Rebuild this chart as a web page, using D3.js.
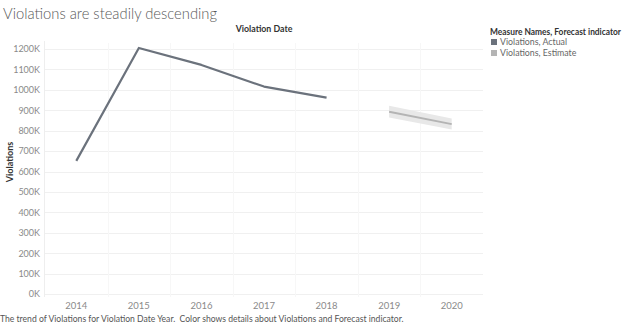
<!DOCTYPE html>
<html>
<head>
<meta charset="utf-8">
<script src="https://cdn.jsdelivr.net/npm/d3@7"></script>
<style>
  html, body { margin: 0; padding: 0; background: #fff; }
  svg { display: block; font-family: Lato, "Open Sans", sans-serif; }
</style>
</head>
<body>
<svg id="chart" width="624" height="326"></svg>
<script>
// Yearly violation totals
const years = ["2014", "2015", "2016", "2017", "2018", "2019", "2020"];
const actualYears = ["2014", "2015", "2016", "2017", "2018"];
const actualValues = [652000, 1205000, 1122000, 1016000, 962000];
const estimateYears = ["2019", "2020"];
const estimateValues = [893000, 832000];
const estimateUpper = [922000, 860000];
const estimateLower = [864000, 806000];
const yTicks = [0, 100000, 200000, 300000, 400000, 500000, 600000, 700000, 800000, 900000, 1000000, 1100000, 1200000];
const legendLabels = ["Violations, Actual", "Violations, Estimate"];
const legendColors = ["#6b727c", "#b4b4b4"];

const svg = d3.select("#chart");
const plotLeft = 45, plotRight = 483, plotTop = 49, plotBottom = 294;

const x = d3.scaleBand().domain(years).range([plotLeft, plotRight]);
const xc = d => x(d) + x.bandwidth() / 2;
const y = d3.scaleLinear().domain([0, 1200000]).range([plotBottom, plotTop]);

// Title
svg.append("text").attr("x", 3).attr("y", 19)
  .attr("font-size", 15).attr("fill", "#5a5a5a").attr("font-weight", 300)
  .attr("textLength", 214).attr("lengthAdjust", "spacingAndGlyphs")
  .text("Violations are steadily descending");

// Column header
svg.append("text").attr("x", (plotLeft + plotRight) / 2).attr("y", 32)
  .attr("text-anchor", "middle").attr("font-size", 8.8).attr("font-weight", 700)
  .attr("fill", "#333").text("Violation Date");

// Horizontal gridlines
svg.append("g").selectAll("line").data(yTicks).join("line")
  .attr("x1", plotLeft).attr("x2", plotRight)
  .attr("y1", d => Math.round(y(d)) + 0.5).attr("y2", d => Math.round(y(d)) + 0.5)
  .attr("stroke", "#f0f0f0").attr("stroke-width", 1);

// Faint column dividers
svg.append("g").selectAll("line").data(years.slice(1)).join("line")
  .attr("x1", d => Math.round(x(d)) + 0.5).attr("x2", d => Math.round(x(d)) + 0.5)
  .attr("y1", plotTop - 6).attr("y2", plotBottom + 3)
  .attr("stroke", "#f7f7f7");

// Left axis line
svg.append("line").attr("x1", plotLeft - 0.5).attr("x2", plotLeft - 0.5)
  .attr("y1", plotTop - 8).attr("y2", plotBottom + 3).attr("stroke", "#eeeeee");

// Y axis
const yAxis = d3.axisLeft(y).tickValues(yTicks)
  .tickFormat(d => (d / 1000) + "K").tickSize(0).tickPadding(4);
const gy = svg.append("g").attr("transform", `translate(${plotLeft - 1},0)`).call(yAxis);
gy.select(".domain").remove();
gy.selectAll("text").attr("font-size", 9).attr("fill", "#8a8a8a")
  .attr("font-family", "Lato, 'Open Sans', sans-serif");

// X axis
const xAxis = d3.axisBottom(x).tickSize(0).tickPadding(8);
const gx = svg.append("g").attr("transform", `translate(0,${plotBottom})`).call(xAxis);
gx.select(".domain").remove();
gx.selectAll("text").attr("font-size", 9.5).attr("fill", "#8a8a8a")
  .attr("font-family", "Lato, 'Open Sans', sans-serif");

// Y axis title
svg.append("text").attr("transform", "translate(13,162) rotate(-90)")
  .attr("text-anchor", "middle").attr("font-size", 9).attr("font-weight", 700)
  .attr("fill", "#333").text("Violations");

// Estimate band
const est = estimateYears.map((yr, i) => ({ yr, v: estimateValues[i], hi: estimateUpper[i], lo: estimateLower[i] }));
svg.append("path").datum(est)
  .attr("d", d3.area().x(d => xc(d.yr)).y0(d => y(d.lo)).y1(d => y(d.hi)))
  .attr("fill", "#e8e8e8");
svg.append("path").datum(est)
  .attr("d", d3.line().x(d => xc(d.yr)).y(d => y(d.v)))
  .attr("fill", "none").attr("stroke", legendColors[1]).attr("stroke-width", 2);

// Actual line
const act = actualYears.map((yr, i) => ({ yr, v: actualValues[i] }));
svg.append("path").datum(act)
  .attr("d", d3.line().x(d => xc(d.yr)).y(d => y(d.v)))
  .attr("fill", "none").attr("stroke", legendColors[0]).attr("stroke-width", 2.2)
  .attr("stroke-linejoin", "round");

// Legend
svg.append("text").attr("x", 490).attr("y", 35)
  .attr("font-size", 8.6).attr("font-weight", 700).attr("fill", "#333")
  .attr("textLength", 131).attr("lengthAdjust", "spacingAndGlyphs")
  .text("Measure Names, Forecast indicator");
const lg = svg.append("g").selectAll("g").data(legendLabels).join("g")
  .attr("transform", (d, i) => `translate(491,${39 + i * 11})`);
lg.append("rect").attr("width", 6).attr("height", 6).attr("fill", (d, i) => legendColors[i]);
lg.append("text").attr("x", 9).attr("y", 6).attr("font-size", 8.8).attr("fill", "#666").text(d => d);

// Caption
svg.append("text").attr("x", 0).attr("y", 322)
  .attr("font-size", 8.6).attr("fill", "#555").attr("xml:space", "preserve")
  .text("The trend of Violations for Violation Date Year.  Color shows details about Violations and Forecast indicator.");
</script>
</body>
</html>
